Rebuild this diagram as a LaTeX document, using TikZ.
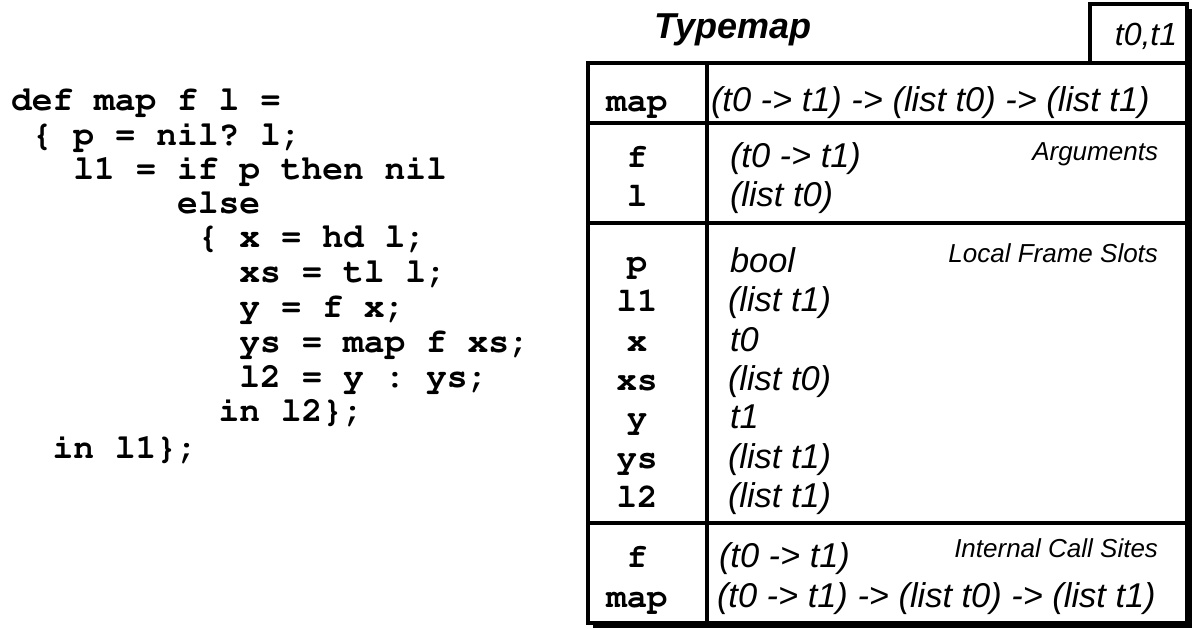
\documentclass[tikz,border=0pt]{standalone}
\usepackage[T1]{fontenc}
\usepackage{fontspec}
\setmainfont{Liberation Sans}
\newcommand{\courierbold}{\fontencoding{T1}\fontfamily{pcr}\fontseries{b}\fontshape{n}}
\frenchspacing

\begin{document}
\begin{tikzpicture}[
    x=0.5pt, y=-0.5pt, line width=2pt,
    code/.style={anchor=base west, inner sep=0pt, font=\courierbold\fontsize{17.3}{18}\selectfont\frenchspacing},
    slot/.style={anchor=base, inner sep=0pt, font=\courierbold\fontsize{17}{18}\selectfont},
    type/.style={anchor=base west, inner sep=0pt, font=\itshape\fontsize{17.2}{18}\selectfont},
    section/.style={anchor=base east, inner sep=0pt, font=\itshape\fontsize{13}{14}\selectfont}
]
\useasboundingbox (0,0) rectangle (1193,630);

% source program
\node[code] (c1)  at (9,111)   {def map f l =};
\node[code] (c2)  at (9,146)   {~\{ p = nil? l;};
\node[code] (c3)  at (9,180)   {~~~l1 = if p then nil};
\node[code] (c4)  at (9,214)   {~~~~~~~~else};
\node[code] (c5)  at (9,248)   {~~~~~~~~~\{ x = hd l;};
\node[code] (c6)  at (9,283)   {~~~~~~~~~~~xs = tl l;};
\node[code] (c7)  at (9,318)   {~~~~~~~~~~~y = f x;};
\node[code] (c8)  at (9,353)   {~~~~~~~~~~~ys = map f xs;};
\node[code] (c9)  at (9,387)   {~~~~~~~~~~~l2 = y : ys;};
\node[code] (c10) at (9,422)   {~~~~~~~~~~in l2\};};
\node[code] (c11) at (9,458)   {~~in l1\};};

% typemap frame with shadow
\fill (1095,9) rectangle (1192,68);
\fill (593,68) rectangle (1192,628);
\filldraw[fill=white] (1090,4) rectangle (1187,63);
\filldraw[fill=white] (588,63) rectangle (1187,623);
\draw (707,63) -- (707,623);
\draw (588,123) -- (1187,123);
\draw (588,223) -- (1187,223);
\draw (588,523) -- (1187,523);

\node[anchor=base, inner sep=0pt, font=\bfseries\itshape\fontsize{18}{20}\selectfont] (title) at (733,39) {Typemap};
\node[anchor=base, inner sep=0pt, font=\itshape\fontsize{16}{18}\selectfont] (tvars) at (1146,46) {t0,t1};

% whole function
\node[slot] (smap) at (637,112) {map};
\node[type] (tmap) at (709,112) {(t0 -> t1) -> (list t0) -> (list t1)};

% arguments
\node[section] (args) at (1160,161) {Arguments};
\node[slot] (sf) at (637,168) {f};
\node[slot] (sl) at (637,207) {l};
\node[type] (tf) at (728,168) {(t0 -> t1)};
\node[type] (tl) at (728,207) {(list t0)};

% local frame slots
\node[section] (locals) at (1160,263) {Local Frame Slots};
\node[slot] (sp)  at (637,273) {p};
\node[slot] (sl1) at (637,312) {l1};
\node[slot] (sx)  at (637,351) {x};
\node[slot] (sxs) at (637,390) {xs};
\node[slot] (sy)  at (637,429) {y};
\node[slot] (sys) at (637,468) {ys};
\node[slot] (sl2) at (637,507) {l2};
\node[type] (tp)  at (728,273) {bool};
\node[type] (tl1) at (726,312) {(list t1)};
\node[type] (tx)  at (728,351) {t0};
\node[type] (txs) at (726,390) {(list t0)};
\node[type] (ty)  at (728,429) {t1};
\node[type] (tys) at (726,468) {(list t1)};
\node[type] (tl2) at (726,507) {(list t1)};

% internal call sites
\node[section] (calls) at (1160,557) {Internal Call Sites};
\node[slot] (cf)   at (637,567) {f};
\node[slot] (cmap) at (637,607) {map};
\node[type] (tcf)   at (717,567) {(t0 -> t1)};
\node[type] (tcmap) at (715,607) {(t0 -> t1) -> (list t0) -> (list t1)};
\end{tikzpicture}
\end{document}
